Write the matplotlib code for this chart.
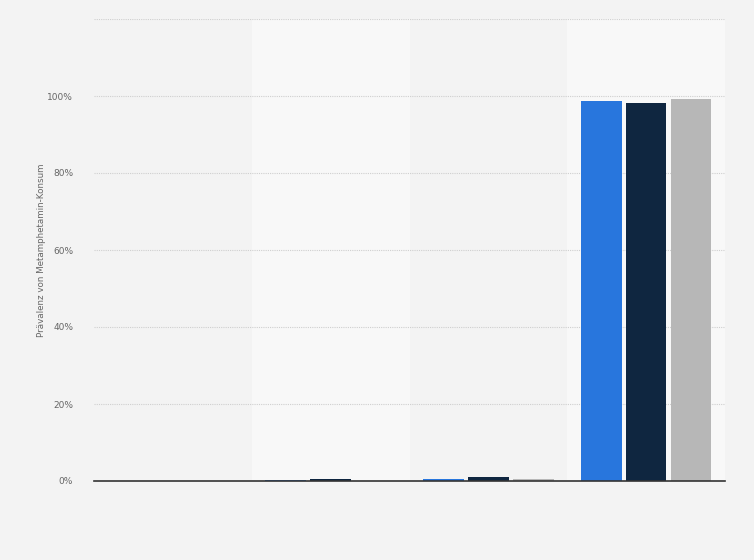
import numpy as np
import matplotlib.pyplot as plt

groups = ['G1', 'G2', 'G3', 'G4']
series_a = [0.05, 0.25, 0.6, 98.7]
series_b = [0.05, 0.55, 1.0, 98.2]
series_c = [0.05, 0.1, 0.45, 99.1]
colors = ['#2876dd', '#0f2640', '#b7b7b7']
yticks = [0, 20, 40, 60, 80, 100]

fig = plt.figure(figsize=(7.54, 5.6), dpi=100, facecolor='#f3f3f3')
ax = fig.add_axes([94/754, 1 - 481/560, 631/754, 462/560])
ax.set_facecolor('#f3f3f3')

x = np.arange(len(groups))
# alternating bands
for i in x:
    if i % 2 == 1:
        ax.axvspan(i - 0.5, i + 0.5, color='#f8f8f8', zorder=0, lw=0)

w = 0.258
step = 0.285
for k, vals in enumerate([series_a, series_b, series_c]):
    ax.bar(x + (k - 1) * step, vals, width=w, color=colors[k],
           linewidth=0, zorder=3)

ax.set_xlim(-0.5, len(groups) - 0.5)
ax.set_ylim(0, 120)
ax.set_yticks(yticks)
ax.set_yticklabels([f'{v}%' for v in yticks], fontsize=6.5, color='#666666')
for v in [20, 40, 60, 80, 100, 120]:
    ax.axhline(v, color='#cfcfcf', linestyle=(0, (1, 1)), linewidth=0.8, zorder=1)
ax.axhline(0, color='#333333', linewidth=1.2, zorder=4, clip_on=False)
ax.set_xticks([])
ax.tick_params(axis='y', length=0, pad=15)
for s in ax.spines.values():
    s.set_visible(False)

ax.set_ylabel('Prävalenz von Metamphetamin-Konsum', fontsize=6.3, color='#666666', labelpad=1)

fig.savefig('out.png', dpi=100, facecolor=fig.get_facecolor())
